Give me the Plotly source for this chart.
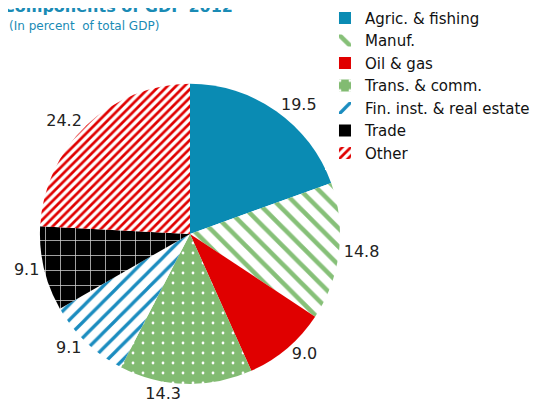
import plotly.graph_objects as go

categories = ["Agric. & fishing", "Manuf.", "Oil & gas", "Trans. & comm.",
              "Fin. inst. & real estate", "Trade", "Other"]
values = [19.5, 14.8, 9.0, 14.3, 9.1, 9.1, 24.2]
value_labels = ["19.5", "14.8", "9.0", "14.3", "9.1", "9.1", "24.2"]

colors = ["#0a8bb3", "#ffffff", "#e00000", "#82bb72", "#ffffff", "#000000", "#ffffff"]
pat_shapes = ["", "\\", "", ".", "/", "+", "/"]
pat_fg = ["#0a8bb3", "#86c078", "#e00000", "#ffffff", "#1a8cbf", "#d0d0d0", "#e00000"]
pat_bg = ["#0a8bb3", "#ffffff", "#e00000", "#82bb72", "#ffffff", "#000000", "#ffffff"]
pat_size = [8, 13, 8, 10, 11, 15, 6]
pat_solid = [0.3, 0.35, 0.3, 0.06, 0.3, 0.1, 0.45]

FONT = "DejaVu Sans"

fig = go.Figure(go.Pie(
    labels=categories,
    values=values,
    text=value_labels,
    textinfo="text",
    textposition="outside",
    sort=False,
    direction="clockwise",
    rotation=0,
    marker=dict(
        colors=colors,
        line=dict(width=0),
        pattern=dict(shape=pat_shapes, fgcolor=pat_fg, bgcolor=pat_bg,
                     size=pat_size, solidity=pat_solid, fillmode="replace"),
    ),
    outsidetextfont=dict(size=16, color="#222222", family=FONT),
    automargin=False,
    domain=dict(x=[0.0584, 0.607], y=[0.0807, 0.8147]),
    hoverinfo="label+value",
))

fig.update_layout(
    width=547, height=409,
    margin=dict(l=0, r=0, t=0, b=0, autoexpand=False),
    paper_bgcolor="white",
    plot_bgcolor="white",
    font=dict(family=FONT, color="#000000"),
    showlegend=True,
    legend=dict(x=0.5795, y=1.015, xanchor="left", yanchor="top",
                font=dict(size=15, color="#111111", family=FONT),
                itemsizing="constant", tracegroupgap=0, itemwidth=30),
)
fig.add_annotation(text="<b>Components of GDP 2012</b>", xref="paper", yref="paper",
                   x=-0.012, y=1.003, xanchor="left", yanchor="middle", showarrow=False,
                   font=dict(size=16, color="#1a8bb5", family=FONT))
fig.add_annotation(text="(In percent  of total GDP)", xref="paper", yref="paper",
                   x=-0.002, y=0.955, xanchor="left", yanchor="middle", showarrow=False,
                   font=dict(size=12, color="#1a8bb5", family=FONT))

fig.write_html("out.html")
